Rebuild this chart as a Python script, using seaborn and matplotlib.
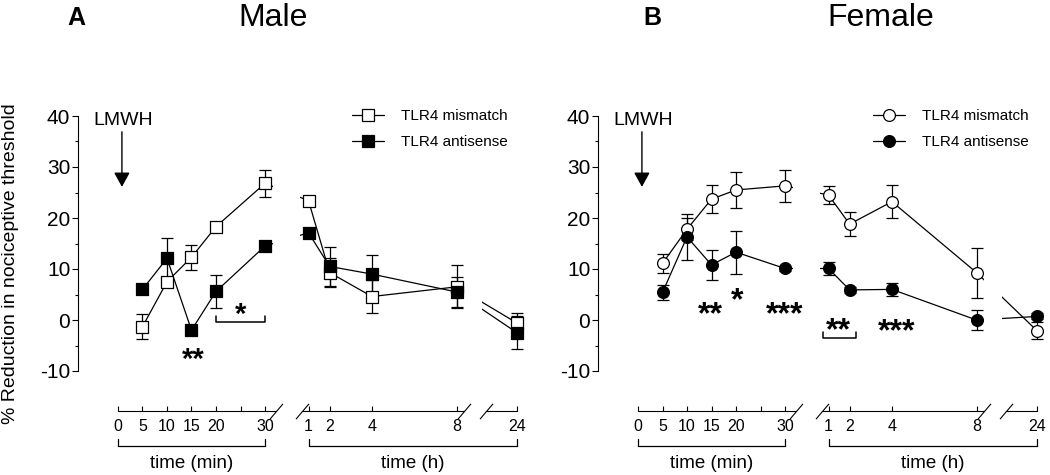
import numpy as np
import pandas as pd
import matplotlib
matplotlib.use('Agg')
import matplotlib.pyplot as plt
import matplotlib.transforms as mtransforms
from matplotlib.lines import Line2D
import seaborn as sns

# time points (minutes after LMWH, then hours)
times_min = [5, 10, 15, 20, 30]
times_h = [1, 2, 4, 8, 24]
groups = ['TLR4 mismatch', 'TLR4 antisense']

# male (A)
male_mismatch = [-1.3, 7.5, 12.3, 18.3, 26.8, 23.4, 9.3, 4.6, 6.5, -0.6]
male_mismatch_sem = [2.4, 1.0, 2.5, 0.8, 2.7, 1.0, 2.8, 3.3, 4.2, 2.0]
male_antisense = [6.0, 12.1, -2.0, 5.6, 14.5, 17.1, 10.5, 9.0, 5.5, -2.5]
male_antisense_sem = [0.6, 4.0, 0.6, 3.3, 0.8, 0.8, 3.9, 3.7, 3.0, 3.2]

# female (B)
female_mismatch = [11.1, 17.8, 23.7, 25.5, 26.3, 24.5, 18.8, 23.2, 9.3, -2.1]
female_mismatch_sem = [1.9, 2.2, 2.8, 3.5, 3.2, 1.8, 2.4, 3.2, 4.9, 1.7]
female_antisense = [5.4, 16.3, 10.8, 13.3, 10.1, 10.1, 5.9, 6.0, 0.0, 0.7]
female_antisense_sem = [1.4, 4.5, 3.0, 4.2, 0.5, 1.3, 0.6, 1.2, 1.9, 0.6]

# significance marks: (time in min, y centre, text)
male_stars = [(15.3, -6.2, '**'), (25, 2.6, '*')]
male_brackets = [(20, 30, -0.45)]
female_stars = [(14.8, 2.9, '**'), (20.2, 5.6, '*'), (30, 2.9, '***'),
                (1.48 * 60, -0.3, '**'), (4.2 * 60, -0.45, '***')]
female_brackets = [(0.94 * 60, 2.3 * 60, -3.6)]

tick_vals = [0, 5, 10, 15, 20, 30, 60, 120, 240, 480, 1440]
tick_labels = ['0', '5', '10', '15', '20', '30', '1', '2', '4', '8', '24']

t_all = times_min + [h * 60 for h in times_h]

sns.set_style('ticks')
plt.rcParams['font.family'] = ['Liberation Sans', 'DejaVu Sans']
plt.rcParams['axes.unicode_minus'] = False
plt.rcParams.update({'text.color': 'black', 'axes.labelcolor': 'black',
                     'axes.edgecolor': 'black', 'xtick.color': 'black',
                     'ytick.color': 'black'})

# broken time axis: minutes -> horizontal position
brk_t = np.array([-60, 0, 30, 60, 480, 1440, 2000])
brk_p = np.array([-294, 0, 147, 190.5, 338.5, 399, 434])


def fwd(t):
    return np.interp(t, brk_t, brk_p)


def inv(p):
    return np.interp(p, brk_p, brk_t)


fig = plt.figure(figsize=(10.5, 4.75), dpi=100)
ax_h_px = 255


def panel(left, mism, mism_err, anti, anti_err, mk, stars, brackets, leg_x, star_fs):
    ax = fig.add_axes([left / 1050, 104 / 475, 450 / 1050, ax_h_px / 475])
    ax.set_xscale('function', functions=(fwd, inv))

    for vals, err, face in [(mism, mism_err, 'white'), (anti, anti_err, 'black')]:
        df = pd.DataFrame({'t': t_all, 'val': vals})
        sns.lineplot(data=df, x='t', y='val', color='black', linewidth=0.9,
                     estimator=None, ax=ax, zorder=2)
        ax.errorbar(t_all, vals, yerr=err, fmt='none', ecolor='black',
                    elinewidth=0.9, capsize=4.5, capthick=0.9, zorder=3)
        sns.scatterplot(data=df, x='t', y='val', marker=mk, s=72, color=face,
                        edgecolor='black', linewidth=0.9, ax=ax, zorder=4,
                        legend=False)

    # hide the connecting lines across the axis breaks
    for p0, p1 in [(155, 182), (346, 364)]:
        ax.axvspan(inv(p0), inv(p1), color='white', lw=0, zorder=2.5)

    ax.set_xlim(inv(-40), inv(410))
    ax.set_ylim(-10, 40)
    ax.set_xlabel('')
    ax.set_ylabel('')
    ax.set_yticks(range(-10, 41, 10))
    ax.set_yticks(range(-5, 40, 10), minor=True)
    ax.tick_params(axis='y', which='major', direction='out', length=4,
                   width=0.8, labelsize=15, pad=1.5)
    ax.tick_params(axis='y', which='minor', direction='out', length=2.5, width=0.8)
    ax.set_xticks(tick_vals)
    ax.set_xticklabels(tick_labels)
    ax.set_xticks([25], minor=True)
    ax.tick_params(axis='x', which='both', direction='in', length=3.5,
                   width=0.8, labelsize=11.5, pad=5.5)
    for s in ['top', 'right']:
        ax.spines[s].set_visible(False)
    ax.spines['left'].set_linewidth(0.8)
    ax.spines['bottom'].set_position(('outward', 28.8))
    ax.spines['bottom'].set_visible(False)

    # broken x axis line with slashes
    tick_tr = ax.get_xaxis_transform(which='tick1')
    for p0, p1 in [(0, 158), (184, 346), (368, 399)]:
        ax.plot([inv(p0), inv(p1)], [0, 0], transform=tick_tr, color='black',
                lw=0.8, clip_on=False)
    for p in [158, 184, 346, 368]:
        ax.plot([inv(p)], [0], transform=tick_tr, ls='', marker=[(-0.85, -1), (0.85, 1)],
                ms=11, mew=0.8, mfc='none', mec='black', clip_on=False)

    # unit brackets below tick labels
    br_tr = mtransforms.offset_copy(tick_tr, fig=fig, y=-35, units='dots')
    up = 7 / ax_h_px
    for a, b in [(0, 30), (60, 1440)]:
        ax.plot([a, a, b, b], [up, 0, 0, up], transform=br_tr, color='black',
                lw=0.9, clip_on=False)
    ax.text(inv(73.5), -17 / ax_h_px, 'time (min)', transform=br_tr,
            ha='center', va='center', fontsize=13.5)
    ax.text(inv(294.75), -17 / ax_h_px, 'time (h)', transform=br_tr,
            ha='center', va='center', fontsize=13.5)

    # LMWH injection arrow
    ax.text(1.0, 39.2, 'LMWH', ha='center', va='center', fontsize=14)
    ax.annotate('', xy=(0.8, 26.1), xytext=(0.8, 36.9),
                arrowprops=dict(arrowstyle='-|>,head_length=0.4,head_width=0.22',
                                color='black', lw=1.0, mutation_scale=22,
                                shrinkA=0, shrinkB=0))

    # asterisks: put the glyph's ink centre on y
    star_tr = mtransforms.offset_copy(ax.transData, fig=fig, y=-0.57 * star_fs,
                                      units='points')
    for x, y, s in stars:
        ax.text(x, y, s, ha='center', va='baseline', fontsize=star_fs,
                fontweight='bold', transform=star_tr)
    for a, b, y in brackets:
        ax.plot([a, a, b, b], [y + 1.3, y, y, y + 1.3], color='black', lw=1.1,
                zorder=5)

    handles = [Line2D([], [], color='black', lw=0.9, marker=mk, ms=8.5,
                      mfc='white', mec='black', mew=0.9),
               Line2D([], [], color='black', lw=0.9, marker=mk, ms=8.5,
                      mfc='black', mec='black', mew=0.9)]
    ax.legend(handles, groups, loc='upper left',
              bbox_to_anchor=(leg_x / 1050, 1 - 109 / 475),
              bbox_transform=fig.transFigure, frameon=False, fontsize=11,
              handlelength=2.1, handletextpad=1.1, labelspacing=0.78,
              borderpad=0, borderaxespad=0)
    return ax


ax_a = panel(78, male_mismatch, male_mismatch_sem, male_antisense,
             male_antisense_sem, 's', male_stars, male_brackets, 352, 21)
ax_b = panel(598, female_mismatch, female_mismatch_sem, female_antisense,
             female_antisense_sem, 'o', female_stars, female_brackets, 873, 23)

ax_a.set_ylabel('% Reduction in nociceptive threshold', fontsize=14)
ax_a.yaxis.set_label_coords(-0.131, 0.42)

fig.text(273 / 1050, 1 - 26 / 475, 'Male', ha='center', va='baseline', fontsize=23)
fig.text(881 / 1050, 1 - 26 / 475, 'Female', ha='center', va='baseline', fontsize=23)
fig.text(76 / 1050, 1 - 25 / 475, 'A', ha='center', va='baseline', fontsize=18,
         fontweight='bold')
fig.text(652 / 1050, 1 - 25 / 475, 'B', ha='center', va='baseline', fontsize=18,
         fontweight='bold')

fig.savefig('out.png', dpi=100)
